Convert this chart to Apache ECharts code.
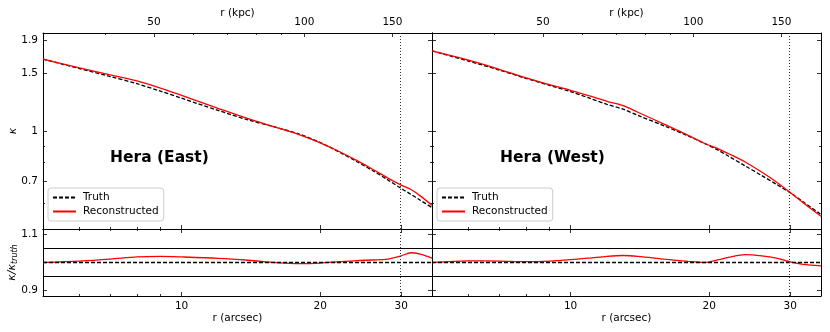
<!DOCTYPE html>
<html>
<head>
<meta charset="utf-8">
<script src="https://cdn.jsdelivr.net/npm/echarts@6/dist/echarts.min.js"></script>
</head>
<body style="margin:0">
<div id="container" style="width:830px;height:332px"></div>
<script>
// Hera (East) profile
var rEast     = [5, 6, 7, 8, 9, 10, 12, 14, 16, 18, 20, 22, 24, 26, 28, 30, 31.5, 33, 35];
var truthEast = [1.662, 1.555, 1.470, 1.397, 1.325, 1.261, 1.157, 1.080, 1.027, 0.979, 0.922, 0.862, 0.806, 0.756, 0.709, 0.666, 0.639, 0.613, 0.582];
var reconEast = [1.662, 1.563, 1.488, 1.425, 1.354, 1.286, 1.174, 1.089, 1.027, 0.975, 0.920, 0.865, 0.812, 0.763, 0.718, 0.682, 0.661, 0.632, 0.591];
var ratioEast = [1.0, 1.005, 1.012, 1.02, 1.022, 1.02, 1.015, 1.008, 1.0, 0.996, 0.998, 1.003, 1.007, 1.009, 1.012, 1.024, 1.035, 1.03, 1.016];

// Hera (West) profile
var rWest     = [5, 6, 7, 8, 9, 10, 11, 12, 13, 14, 16, 18, 19.5, 21, 22, 24, 26, 28, 30, 32, 35];
var truthWest = [1.762, 1.640, 1.539, 1.451, 1.381, 1.321, 1.261, 1.207, 1.167, 1.117, 1.036, 0.966, 0.917, 0.871, 0.838, 0.780, 0.730, 0.686, 0.646, 0.606, 0.554];
var reconWest = [1.762, 1.650, 1.547, 1.455, 1.388, 1.334, 1.281, 1.234, 1.196, 1.142, 1.048, 0.970, 0.917, 0.880, 0.853, 0.802, 0.748, 0.697, 0.647, 0.602, 0.547];
var ratioWest = [1.0, 1.006, 1.005, 1.003, 1.005, 1.01, 1.016, 1.022, 1.025, 1.022, 1.012, 1.004, 1.0, 1.01, 1.018, 1.028, 1.024, 1.016, 1.002, 0.993, 0.988];

// ticks
var kappaTicks  = [0.7, 1, 1.5, 1.9];
var kappaMinor  = [0.6, 0.8, 0.9];
var arcsecTicks = [10, 20, 30];
var arcsecMinor = [6, 7, 8, 9];
var kpcTicks    = [50, 100, 150];
var kpcMinor    = [40, 60, 70, 80, 90];
var ratioTicks  = [0.9, 1.1];
var ratioBand   = [0.95, 1.05];
var rLimit      = 29.8;

var font = 'DejaVu Sans';
var xAxes = [], yAxes = [], series = [];

function fmt(v) { return String(Math.round(v * 100) / 100); }

// an axis that only draws inward ticks (and maybe the spine / labels)
function tickAxis(type, grid, pos, min, max, values, len, line, labels) {
    var a = {
        type: type, gridIndex: grid, position: pos, min: min, max: max,
        axisLine: {show: line, lineStyle: {color: '#000', width: 1}},
        axisTick: {show: true, inside: true, length: len, customValues: values,
                   lineStyle: {color: '#000', width: 0.8}},
        axisLabel: {show: false},
        splitLine: {show: false},
        minorTick: {show: false}
    };
    if (type === 'log') a.logBase = 10;
    if (labels) {
        a.axisLabel = {show: true, customValues: values, formatter: fmt, margin: 5,
                       color: '#000', fontFamily: font, fontSize: 10.5};
    }
    return a;
}

function add(list, o) { list.push(o); return list.length - 1; }

function setName(a, text, gap, style) {
    a.name = text;
    a.nameLocation = 'middle';
    a.nameGap = gap;
    a.nameMoveOverlap = false;
    a.nameTextStyle = style;
}

function panel(gTop, gRat, r, truth, recon, ratio, first) {
    // upper panel
    var xMain = add(xAxes, tickAxis('log', gTop, 'bottom', 5, 35, arcsecTicks, 4, true, false));
    add(xAxes, tickAxis('log', gTop, 'bottom', 5, 35, arcsecMinor, 2, false, false));
    var kpc = tickAxis('log', gTop, 'top', 30, 180, kpcTicks, 4, true, true);
    setName(kpc, 'r (kpc)', 14, {color: '#000', fontFamily: font, fontSize: 10.5});
    add(xAxes, kpc);
    add(xAxes, tickAxis('log', gTop, 'top', 30, 180, kpcMinor, 2, false, false));

    var yMainAx = tickAxis('log', gTop, 'left', 0.5, 2, kappaTicks, 4, true, first);
    if (first) {
        setName(yMainAx, 'κ', 24, {color: '#000', fontFamily: font, fontSize: 11, fontStyle: 'italic'});
    }
    var yMain = add(yAxes, yMainAx);
    add(yAxes, tickAxis('log', gTop, 'left', 0.5, 2, kappaMinor.concat([0.5]), 2, false, false));
    add(yAxes, tickAxis('log', gTop, 'right', 0.5, 2, kappaTicks, 4, true, false));
    add(yAxes, tickAxis('log', gTop, 'right', 0.5, 2, kappaMinor, 2, false, false));

    series.push({
        name: 'Truth', type: 'line', xAxisIndex: xMain, yAxisIndex: yMain,
        data: r.map(function (v, i) { return [v, truth[i]]; }),
        symbol: 'none', smooth: 0.3,
        lineStyle: {color: '#000', width: 1.3, type: [4, 2]},
        itemStyle: {color: '#000'}
    });
    series.push({
        name: 'Reconstructed', type: 'line', xAxisIndex: xMain, yAxisIndex: yMain,
        data: r.map(function (v, i) { return [v, recon[i]]; }),
        symbol: 'none', smooth: 0.3,
        lineStyle: {color: '#ff0000', width: 1.3},
        itemStyle: {color: '#ff0000'},
        markLine: {
            silent: true, symbol: 'none', label: {show: false}, animation: false,
            lineStyle: {color: '#333', width: 1, type: [1, 2]},
            data: [{xAxis: rLimit}]
        }
    });

    // ratio panel
    var xr = tickAxis('log', gRat, 'bottom', 5, 35, arcsecTicks, 4, true, true);
    setName(xr, 'r (arcsec)', 17, {color: '#000', fontFamily: font, fontSize: 10.5});
    var xRat = add(xAxes, xr);
    add(xAxes, tickAxis('log', gRat, 'bottom', 5, 35, arcsecMinor, 2, false, false));
    add(xAxes, tickAxis('log', gRat, 'top', 5, 35, arcsecTicks, 4, true, false));
    add(xAxes, tickAxis('log', gRat, 'top', 5, 35, arcsecMinor, 2, false, false));

    var yr = tickAxis('value', gRat, 'left', 0.88, 1.12, ratioTicks, 4, true, first);
    if (first) {
        setName(yr, '{n|κ/κ}{s|truth}', 24, {
            color: '#000', fontFamily: font,
            rich: {
                n: {fontSize: 11, fontStyle: 'italic', fontFamily: font, color: '#000'},
                s: {fontSize: 8, fontStyle: 'italic', fontFamily: font, color: '#000', padding: [5, 0, 0, 0]}
            }
        });
    }
    var yRat = add(yAxes, yr);
    add(yAxes, tickAxis('value', gRat, 'right', 0.88, 1.12, ratioTicks, 4, true, false));

    series.push({
        name: 'Reconstructed', type: 'line', xAxisIndex: xRat, yAxisIndex: yRat,
        data: r.map(function (v, i) { return [v, ratio[i]]; }),
        symbol: 'none', smooth: 0.3,
        lineStyle: {color: '#ff0000', width: 1.3},
        itemStyle: {color: '#ff0000'},
        markLine: {
            silent: true, symbol: 'none', label: {show: false}, animation: false,
            data: [
                {yAxis: ratioBand[1], lineStyle: {color: '#000', width: 1.1, type: 'solid'}},
                {yAxis: ratioBand[0], lineStyle: {color: '#000', width: 1.1, type: 'solid'}},
                {yAxis: 1, lineStyle: {color: '#000', width: 1.4, type: [4, 2]}},
                {xAxis: rLimit, lineStyle: {color: '#333', width: 1, type: [1, 2]}}
            ]
        }
    });
}

panel(0, 1, rEast, truthEast, reconEast, ratioEast, true);
panel(2, 3, rWest, truthWest, reconWest, ratioWest, false);

function legendAt(left) {
    return {
        left: left, top: 188, orient: 'vertical',
        data: ['Truth', 'Reconstructed'],
        itemWidth: 23, itemHeight: 12, itemGap: 3,
        padding: [4, 5, 4, 4],
        borderColor: '#cccccc', borderWidth: 1, borderRadius: 3,
        backgroundColor: 'rgba(255,255,255,0.8)',
        selectedMode: false,
        itemStyle: {opacity: 0},
        textStyle: {color: '#000', fontFamily: font, fontSize: 10.5, padding: [0, 0, 0, 2]}
    };
}

var option = {
    animation: false,
    backgroundColor: '#fff',
    grid: [
        {left: 43, top: 33, width: 389, height: 196, outerBoundsMode: 'none'},
        {left: 43, top: 229, width: 389, height: 67, outerBoundsMode: 'none'},
        {left: 432, top: 33, width: 389, height: 196, outerBoundsMode: 'none'},
        {left: 432, top: 229, width: 389, height: 67, outerBoundsMode: 'none'}
    ],
    title: [
        {text: 'Hera (East)', left: 110, top: 150, padding: 0,
         textStyle: {fontFamily: font, fontSize: 15.5, fontWeight: 'bold', color: '#000'}},
        {text: 'Hera (West)', left: 500, top: 150, padding: 0,
         textStyle: {fontFamily: font, fontSize: 15.5, fontWeight: 'bold', color: '#000'}}
    ],
    legend: [legendAt(48), legendAt(437)],
    xAxis: xAxes,
    yAxis: yAxes,
    series: series
};

var myChart = echarts.init(document.getElementById('container'));
myChart.setOption(option);
</script>
</body>
</html>
